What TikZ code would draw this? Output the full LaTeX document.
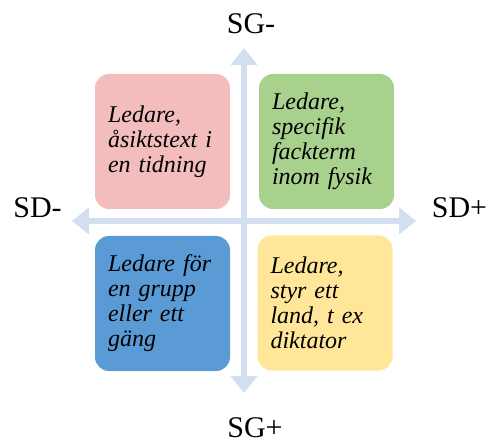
\documentclass[tikz,border=0pt]{standalone}
\usepackage{fontspec}
\setmainfont{Liberation Serif}
\usetikzlibrary{arrows.meta}
\definecolor{axisblue}{RGB}{211,222,240}
\definecolor{qpink}{RGB}{244,189,189}
\definecolor{qgreen}{RGB}{169,209,142}
\definecolor{qblue}{RGB}{91,155,213}
\definecolor{qyellow}{RGB}{255,230,153}
\begin{document}
\begin{tikzpicture}[x=1pt,y=-1pt,
  quad/.style={rounded corners=14pt, minimum width=135pt, minimum height=135pt,
    inner xsep=13pt, inner ysep=0pt, text width=109pt, align=left,
    font=\fontsize{24}{25}\selectfont\itshape},
  axislabel/.style={anchor=base, inner sep=0pt, font=\fontsize{30}{32}\selectfont},
  axis/.style={draw=axisblue, line width=6pt,
    {Triangle[width=26pt,length=17pt]}-{Triangle[width=26pt,length=17pt]}}]
\useasboundingbox (0,0) rectangle (489,443);

% axes
\coordinate (top) at (244,48);
\coordinate (bottom) at (244,393);
\coordinate (left) at (72,221);
\coordinate (right) at (416,221);
\draw[axis] (left) -- (right);
\draw[axis] (top) -- (bottom);

% quadrants
\node[quad, fill=qpink] (tl) at (162.5,141.5) {Ledare,\\ åsiktstext i\\ en tidning};
\node[quad, fill=qgreen] (tr) at (326.5,141.5) {Ledare,\\ specifik\\ fackterm\\ inom fysik};
\node[quad, fill=qblue] (bl) at (162.5,303.5) {Ledare för\\ en grupp\\ eller ett\\ gäng};
\node[quad, fill=qyellow] (br) at (325,303) {Ledare,\\ styr ett\\ land, t ex\\ diktator};

% axis labels
\node[axislabel] (sgminus) at (251,34) {SG-};
\node[axislabel] (sgplus) at (255,437) {SG+};
\node[axislabel] (sdminus) at (37.5,218) {SD-};
\node[axislabel] (sdplus) at (459.5,218) {SD+};
\end{tikzpicture}
\end{document}
